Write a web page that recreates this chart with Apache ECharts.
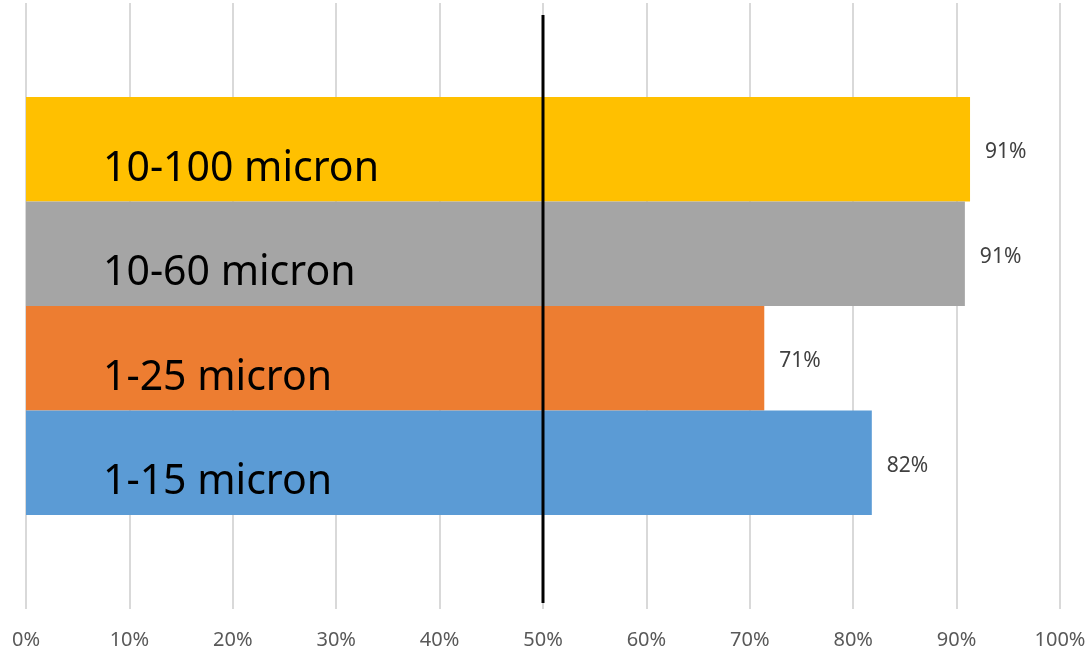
<!DOCTYPE html>
<html>
<head>
<meta charset="utf-8">
<script src="https://cdn.jsdelivr.net/npm/echarts@6/dist/echarts.min.js"></script>
<style>
  html, body { margin: 0; padding: 0; background: #fff; }
  #chart { width: 1089px; height: 652px; }
</style>
</head>
<body>
<div id="chart"></div>
<script>
// series, listed top to bottom (echarts stacks the first series on top)
var names = ['10-100 micron', '10-60 micron', '1-25 micron', '1-15 micron'];
var values = [91.3, 90.8, 71.4, 81.8];
var colors = ['#FFC000', '#A5A5A5', '#ED7D31', '#5B9BD5'];
var category = [''];
var markValue = 50;      // black reference line at 50%
var markSpan = [1, 98];  // its vertical extent, % of plot height

var gridBox = { left: 26, right: 29, top: 3, bottom: 43 }

var chart = echarts.init(document.getElementById('chart'))

// bars with the series name written inside
var barSeries = names.map(function (n, i) {
  return {
    name: n,
    type: 'bar',
    barGap: '0%',
    barCategoryGap: '31%',
    itemStyle: { color: colors[i] },
    label: {
      show: true,
      position: 'insideLeft',
      offset: [72, 20],
      formatter: n,
      color: '#000',
      fontSize: 41,
      fontFamily: 'Noto Sans'
    },
    data: [values[i]]
  }
})

// same bars again, transparent, on an overlay grid, carrying the value labels
var valueSeries = names.map(function (n, i) {
  return {
    type: 'bar',
    xAxisIndex: 1,
    yAxisIndex: 2,
    barGap: '0%',
    barCategoryGap: '31%',
    silent: true,
    itemStyle: { color: 'rgba(0,0,0,0)' },
    label: {
      show: true,
      position: 'right',
      distance: 15,
      offset: [0, 3],
      formatter: function (p) { return Math.round(p.value) + '%' },
      color: '#404040',
      fontSize: 21,
      fontFamily: 'Noto Sans'
    },
    data: [values[i]]
  }
})

var option = {
  animation: false,
  grid: [gridBox, gridBox],
  xAxis: [{
    type: 'value',
    min: 0,
    max: 100,
    interval: 10,
    axisLine: { show: false },
    axisTick: { show: false },
    splitLine: { lineStyle: { color: '#D9D9D9', width: 2 } },
    axisLabel: {
      formatter: '{value}%',
      color: '#595959',
      fontSize: 20,
      fontFamily: 'Noto Sans',
      margin: 21
    }
  }, {
    type: 'value', gridIndex: 1, min: 0, max: 100, show: false
  }],
  yAxis: [{
    type: 'category', data: category, show: false
  }, {
    type: 'value', min: 0, max: 100, show: false
  }, {
    type: 'category', data: category, gridIndex: 1, show: false
  }],
  series: barSeries.concat(valueSeries).concat([{
    type: 'line',
    yAxisIndex: 1,
    symbol: 'none',
    z: 10,
    silent: true,
    lineStyle: { color: '#000', width: 3 },
    data: [[markValue, markSpan[0]], [markValue, markSpan[1]]]
  }])
}

chart.setOption(option)
</script>
</body>
</html>
